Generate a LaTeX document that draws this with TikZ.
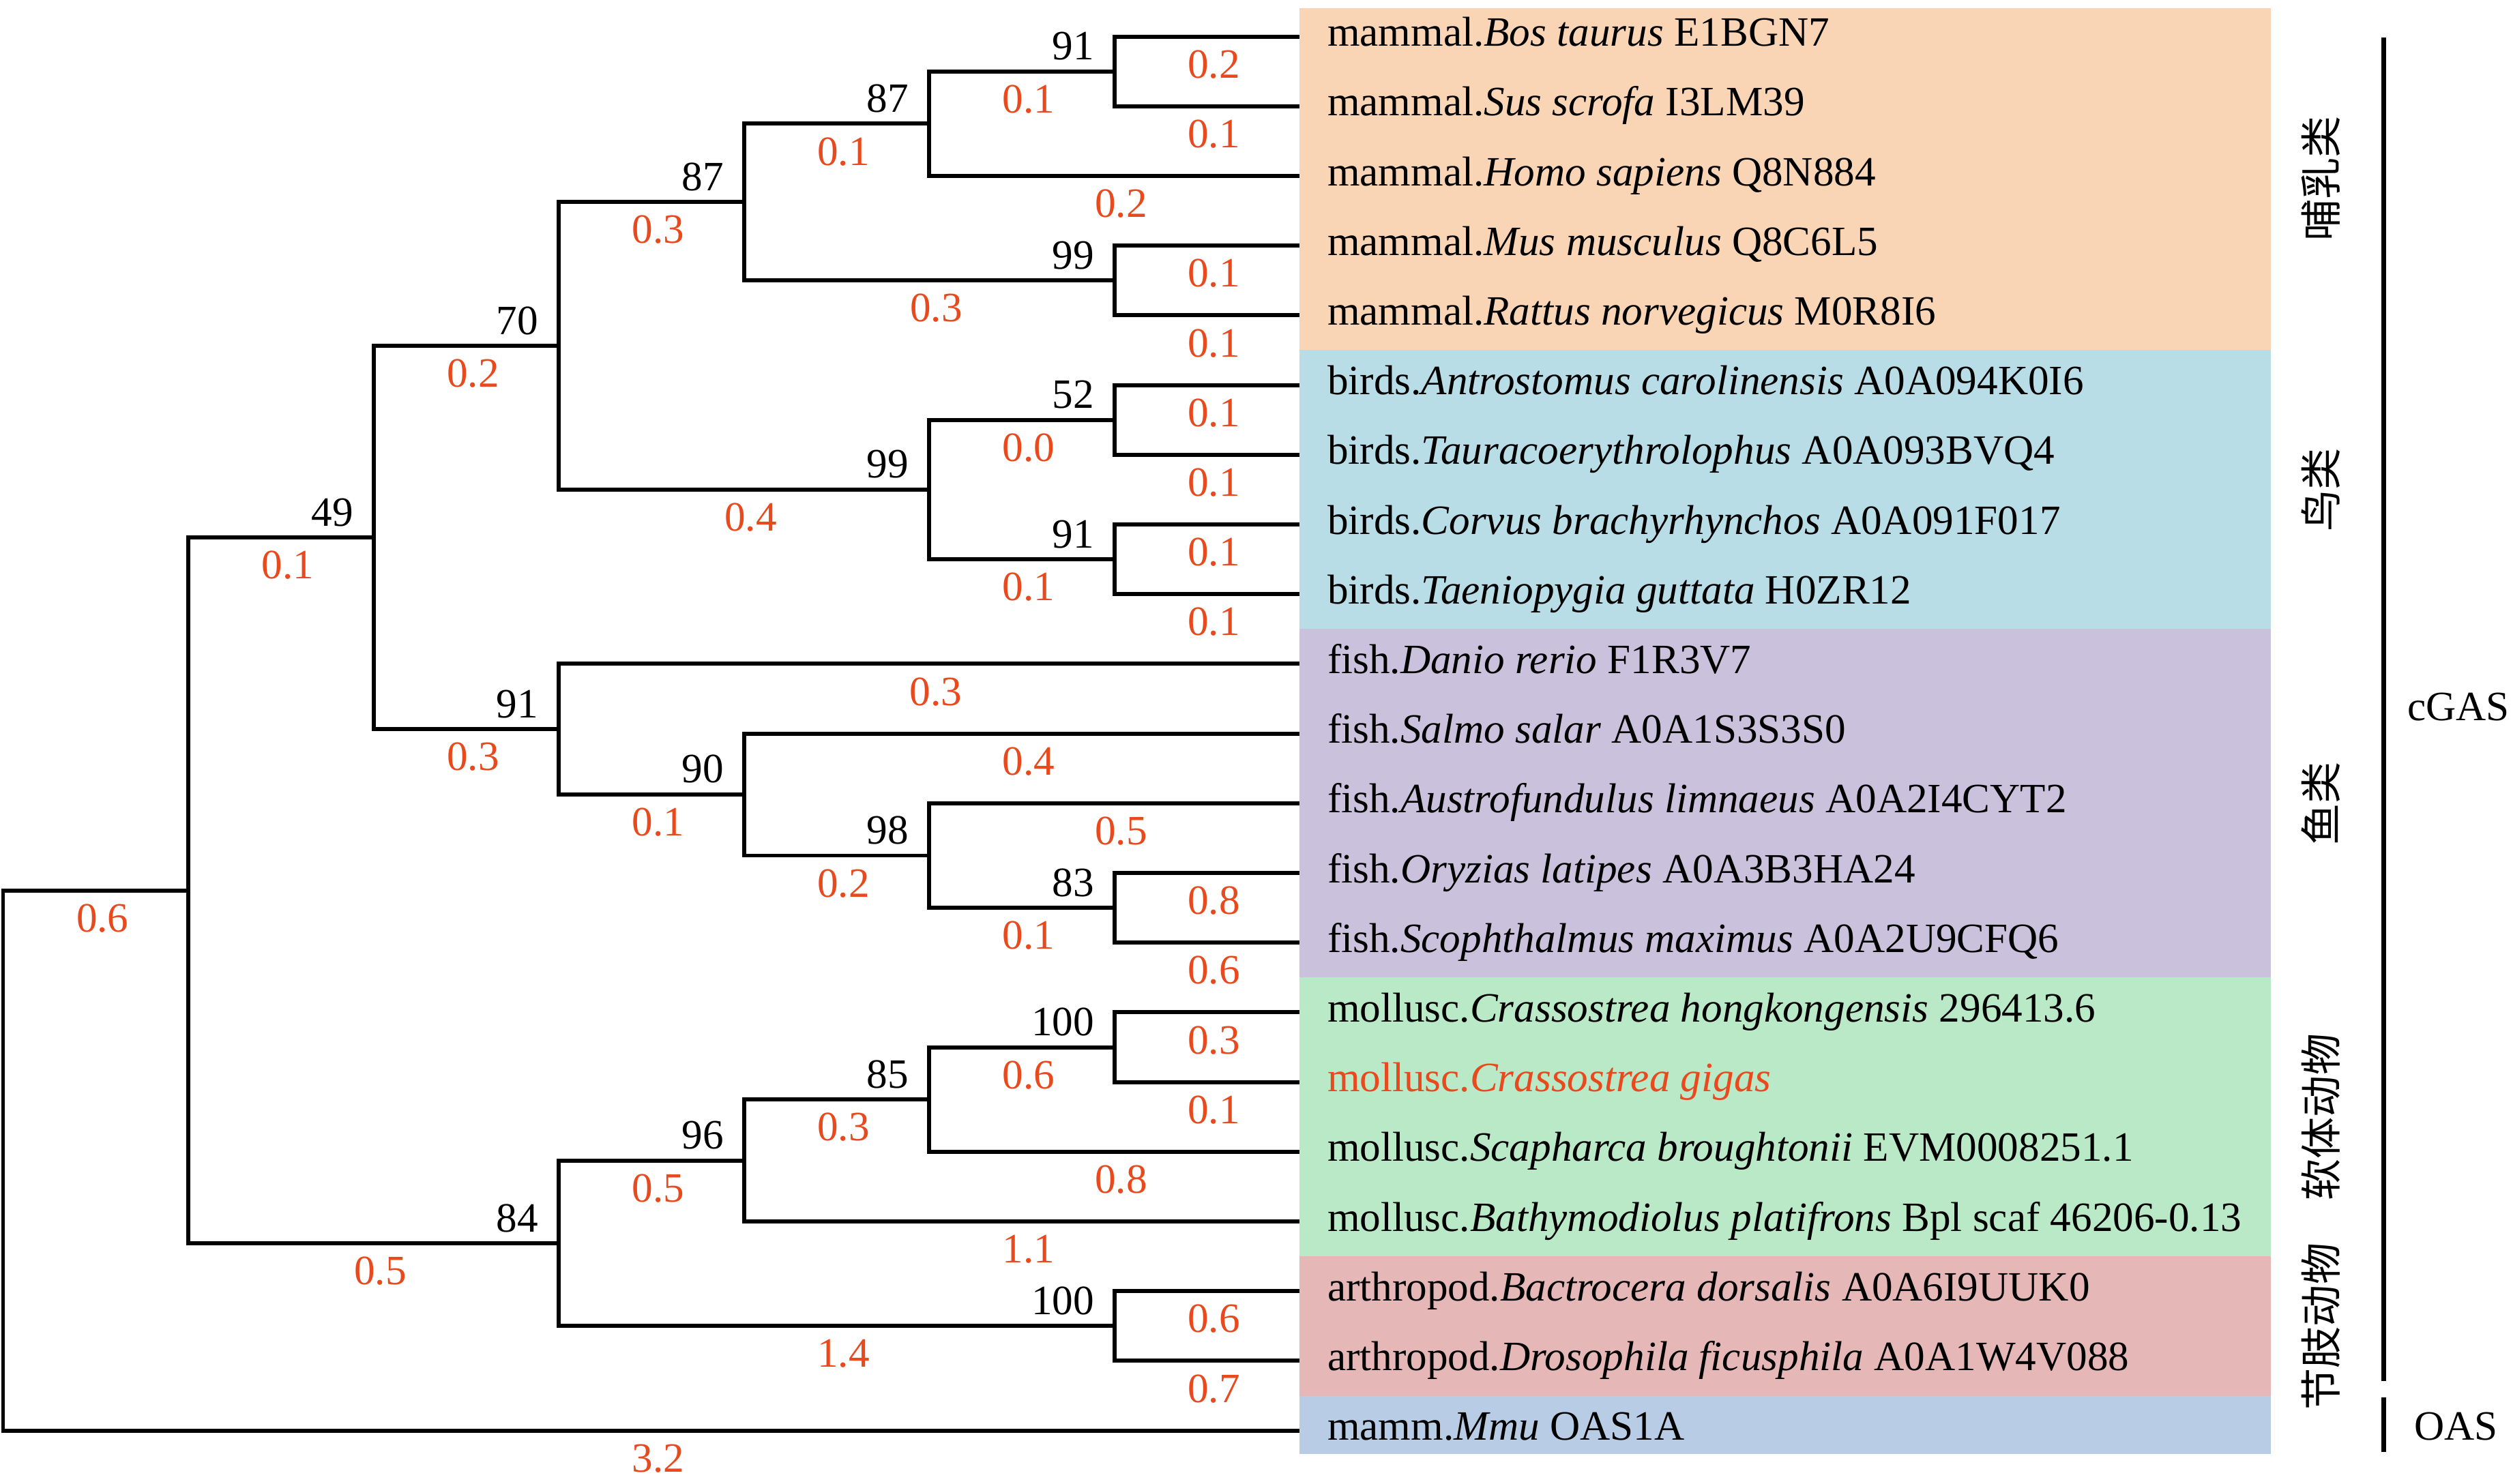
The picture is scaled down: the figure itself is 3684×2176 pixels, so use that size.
\documentclass[tikz,border=0pt]{standalone}
\usepackage{fontspec}
\setmainfont{Liberation Serif}
\newfontfamily\cjk{Noto Sans CJK SC}
\usepackage{tikz}
\usetikzlibrary{positioning}
\definecolor{lenred}{RGB}{232,73,29}
\definecolor{mamfill}{RGB}{249,213,182}
\definecolor{birdfill}{RGB}{184,221,230}
\definecolor{fishfill}{RGB}{202,193,220}
\definecolor{molfill}{RGB}{185,233,198}
\definecolor{artfill}{RGB}{229,183,183}
\definecolor{oasfill}{RGB}{184,205,229}

\begin{document}
\begin{tikzpicture}[x=0.01cm,y=-0.01cm,line width=1.7pt,
  every node/.style={inner sep=0pt,font=\fontsize{17.4}{20}\selectfont},
  leaf/.style={anchor=base west,xshift=0.38cm,yshift=-0.14cm},
  boot/.style={anchor=base east,xshift=-0.27cm,yshift=0.17cm},
  blen/.style={anchor=north,text=lenred,xshift=0.1cm,yshift=-0.17cm,pos=0.75},
  grp/.style={rotate=90,font=\fontsize{17.4}{20}\selectfont\cjk}]
  \useasboundingbox (0,0) rectangle (3684,2176);
  \fill[mamfill] (1905,12) rectangle (3329,513);
  \fill[birdfill] (1905,513) rectangle (3329,922);
  \fill[fishfill] (1905,922) rectangle (3329,1433);
  \fill[molfill] (1905,1433) rectangle (3329,1842);
  \fill[artfill] (1905,1842) rectangle (3329,2047);
  \fill[oasfill] (1905,2047) rectangle (3329,2132);
  \coordinate (l0) at (1905,53.6);
  \coordinate (l1) at (1905,155.8);
  \coordinate (l2) at (1905,258);
  \coordinate (l3) at (1905,360.2);
  \coordinate (l4) at (1905,462.4);
  \coordinate (l5) at (1905,564.6);
  \coordinate (l6) at (1905,666.8);
  \coordinate (l7) at (1905,769);
  \coordinate (l8) at (1905,871.2);
  \coordinate (l9) at (1905,973.4);
  \coordinate (l10) at (1905,1075.6);
  \coordinate (l11) at (1905,1177.8);
  \coordinate (l12) at (1905,1280);
  \coordinate (l13) at (1905,1382.2);
  \coordinate (l14) at (1905,1484.4);
  \coordinate (l15) at (1905,1586.6);
  \coordinate (l16) at (1905,1688.8);
  \coordinate (l17) at (1905,1791);
  \coordinate (l18) at (1905,1893.2);
  \coordinate (l19) at (1905,1995.4);
  \coordinate (l20) at (1905,2097.6);
  \node[leaf] (t0) at (l0) {mammal.\textit{Bos taurus} E1BGN7};
  \node[leaf] (t1) at (l1) {mammal.\textit{Sus scrofa} I3LM39};
  \node[leaf] (t2) at (l2) {mammal.\textit{Homo sapiens} Q8N884};
  \node[leaf] (t3) at (l3) {mammal.\textit{Mus musculus} Q8C6L5};
  \node[leaf] (t4) at (l4) {mammal.\textit{Rattus norvegicus} M0R8I6};
  \node[leaf] (t5) at (l5) {birds.\textit{Antrostomus carolinensis} A0A094K0I6};
  \node[leaf] (t6) at (l6) {birds.\textit{Tauracoerythrolophus} A0A093BVQ4};
  \node[leaf] (t7) at (l7) {birds.\textit{Corvus brachyrhynchos} A0A091F017};
  \node[leaf] (t8) at (l8) {birds.\textit{Taeniopygia guttata} H0ZR12};
  \node[leaf] (t9) at (l9) {fish.\textit{Danio rerio} F1R3V7};
  \node[leaf] (t10) at (l10) {fish.\textit{Salmo salar} A0A1S3S3S0};
  \node[leaf] (t11) at (l11) {fish.\textit{Austrofundulus limnaeus} A0A2I4CYT2};
  \node[leaf] (t12) at (l12) {fish.\textit{Oryzias latipes} A0A3B3HA24};
  \node[leaf] (t13) at (l13) {fish.\textit{Scophthalmus maximus} A0A2U9CFQ6};
  \node[leaf] (t14) at (l14) {mollusc.\textit{Crassostrea hongkongensis} 296413.6};
  \node[leaf,text=lenred] (t15) at (l15) {mollusc.\textit{Crassostrea gigas}};
  \node[leaf] (t16) at (l16) {mollusc.\textit{Scapharca broughtonii} EVM0008251.1};
  \node[leaf] (t17) at (l17) {mollusc.\textit{Bathymodiolus platifrons} Bpl scaf 46206-0.13};
  \node[leaf] (t18) at (l18) {arthropod.\textit{Bactrocera dorsalis} A0A6I9UUK0};
  \node[leaf] (t19) at (l19) {arthropod.\textit{Drosophila ficusphila} A0A1W4V088};
  \node[leaf] (t20) at (l20) {mamm.\textit{Mmu} OAS1A};
  \coordinate (root) at (4.5,1701.6);
  \coordinate (nA) at (276,1305.6);
  \coordinate (n49) at (548,788.2);
  \coordinate (n70) at (819,507.1);
  \coordinate (n87m) at (1091,296.3);
  \coordinate (n87i) at (1362,181.4);
  \coordinate (n91a) at (1634,104.7);
  \coordinate (n99m) at (1634,411.3);
  \coordinate (n99b) at (1362,717.9);
  \coordinate (n52) at (1634,615.7);
  \coordinate (n91b) at (1634,820.1);
  \coordinate (n91f) at (819,1069.2);
  \coordinate (n90) at (1091,1165);
  \coordinate (n98) at (1362,1254.5);
  \coordinate (n83) at (1634,1331.1);
  \coordinate (n84) at (819,1823);
  \coordinate (n96) at (1091,1701.6);
  \coordinate (n85) at (1362,1612.2);
  \coordinate (n100m) at (1634,1535.5);
  \coordinate (n100a) at (1634,1944.3);
  \node[boot] (b49) at (n49) {49};
  \node[boot] (b70) at (n70) {70};
  \node[boot] (b87m) at (n87m) {87};
  \node[boot] (b87i) at (n87i) {87};
  \node[boot] (b91a) at (n91a) {91};
  \node[boot] (b99m) at (n99m) {99};
  \node[boot] (b99b) at (n99b) {99};
  \node[boot] (b52) at (n52) {52};
  \node[boot] (b91b) at (n91b) {91};
  \node[boot] (b91f) at (n91f) {91};
  \node[boot] (b90) at (n90) {90};
  \node[boot] (b98) at (n98) {98};
  \node[boot] (b83) at (n83) {83};
  \node[boot] (b84) at (n84) {84};
  \node[boot] (b96) at (n96) {96};
  \node[boot] (b85) at (n85) {85};
  \node[boot] (b100m) at (n100m) {100};
  \node[boot] (b100a) at (n100a) {100};
  \draw (root) |- (nA) node[blen]{0.6};
  \draw (root) |- (l20) node[blen]{3.2};
  \draw (nA) |- (n49) node[blen]{0.1};
  \draw (nA) |- (n84) node[blen]{0.5};
  \draw (n49) |- (n70) node[blen]{0.2};
  \draw (n49) |- (n91f) node[blen]{0.3};
  \draw (n70) |- (n87m) node[blen]{0.3};
  \draw (n70) |- (n99b) node[blen]{0.4};
  \draw (n87m) |- (n87i) node[blen]{0.1};
  \draw (n87m) |- (n99m) node[blen]{0.3};
  \draw (n87i) |- (n91a) node[blen]{0.1};
  \draw (n87i) |- (l2) node[blen]{0.2};
  \draw (n91a) |- (l0) node[blen]{0.2};
  \draw (n91a) |- (l1) node[blen]{0.1};
  \draw (n99m) |- (l3) node[blen]{0.1};
  \draw (n99m) |- (l4) node[blen]{0.1};
  \draw (n99b) |- (n52) node[blen]{0.0};
  \draw (n99b) |- (n91b) node[blen]{0.1};
  \draw (n52) |- (l5) node[blen]{0.1};
  \draw (n52) |- (l6) node[blen]{0.1};
  \draw (n91b) |- (l7) node[blen]{0.1};
  \draw (n91b) |- (l8) node[blen]{0.1};
  \draw (n91f) |- (l9) node[blen]{0.3};
  \draw (n91f) |- (n90) node[blen]{0.1};
  \draw (n90) |- (l10) node[blen]{0.4};
  \draw (n90) |- (n98) node[blen]{0.2};
  \draw (n98) |- (l11) node[blen]{0.5};
  \draw (n98) |- (n83) node[blen]{0.1};
  \draw (n83) |- (l12) node[blen]{0.8};
  \draw (n83) |- (l13) node[blen]{0.6};
  \draw (n84) |- (n96) node[blen]{0.5};
  \draw (n84) |- (n100a) node[blen]{1.4};
  \draw (n96) |- (n85) node[blen]{0.3};
  \draw (n96) |- (l17) node[blen]{1.1};
  \draw (n85) |- (n100m) node[blen]{0.6};
  \draw (n85) |- (l16) node[blen]{0.8};
  \draw (n100m) |- (l14) node[blen]{0.3};
  \draw (n100m) |- (l15) node[blen]{0.1};
  \draw (n100a) |- (l18) node[blen]{0.6};
  \draw (n100a) |- (l19) node[blen]{0.7};
  \node[grp] (gmam) at (3402,262) {哺乳类};
  \node[grp] (gbird) at (3402,718) {鸟类};
  \node[grp] (gfish) at (3402,1178) {鱼类};
  \node[grp] (gmol) at (3402,1638) {软体动物};
  \node[grp] (gart) at (3402,1945) {节肢动物};
  \draw[line width=2pt] (3494,55) -- (3494,2025);
  \draw[line width=2pt] (3494,2049) -- (3494,2129);
  \node[anchor=west] (cgas) at (3526,1037) {cGAS};
  \node[anchor=west] (oas) at (3536,2092) {OAS};
\end{tikzpicture}
\end{document}
